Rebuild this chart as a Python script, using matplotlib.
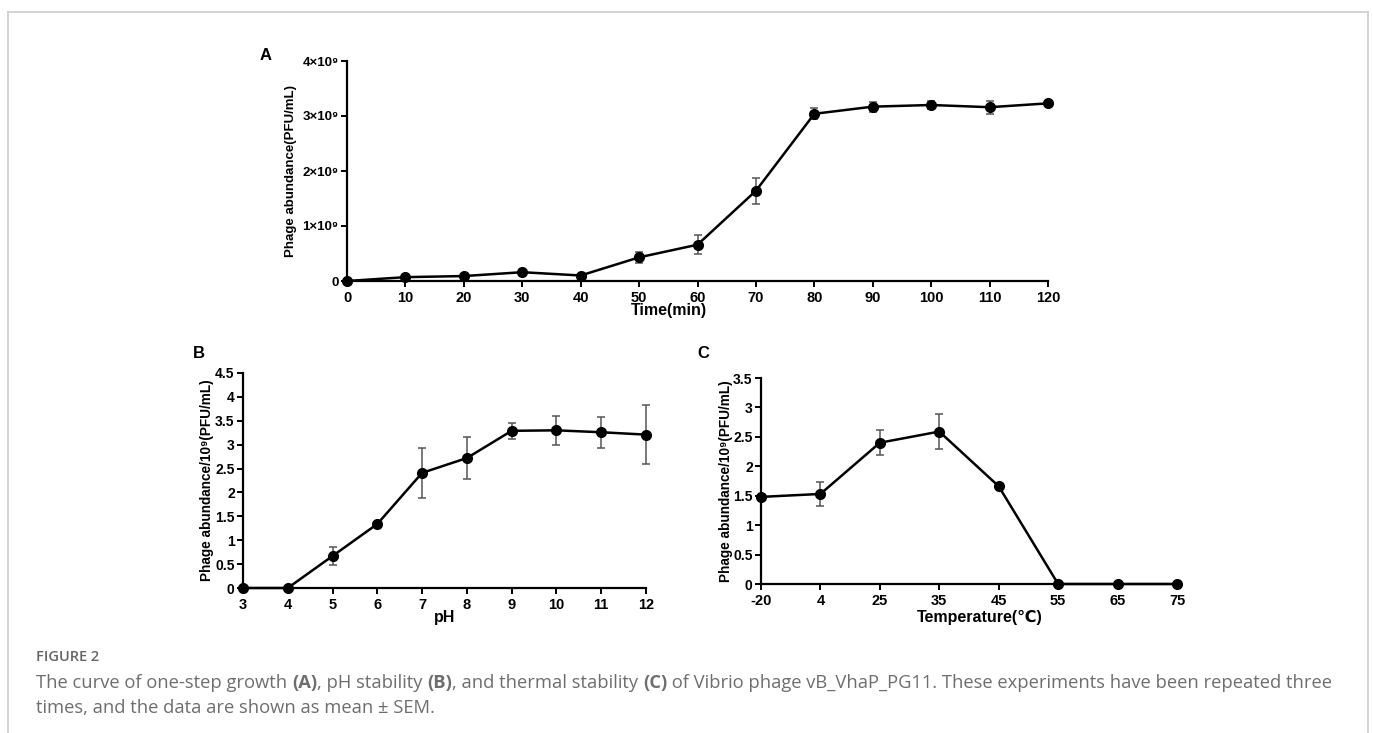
import numpy as np
import matplotlib
matplotlib.use("Agg")
import matplotlib.pyplot as plt
from matplotlib.lines import Line2D

plt.rcParams['font.family'] = ['Liberation Sans', 'DejaVu Sans']

# A: one-step growth
time_min = [0, 10, 20, 30, 40, 50, 60, 70, 80, 90, 100, 110, 120]
growth = [0.0, 0.07e9, 0.09e9, 0.16e9, 0.10e9, 0.43e9, 0.66e9, 1.64e9, 3.04e9, 3.17e9, 3.20e9, 3.16e9, 3.23e9]
growth_err = [0.0, 0.01e9, 0.01e9, 0.02e9, 0.01e9, 0.10e9, 0.17e9, 0.24e9, 0.10e9, 0.09e9, 0.07e9, 0.12e9, 0.02e9]
growth_yticks = [0, 1e9, 2e9, 3e9, 4e9]
growth_ylabels = ['0', '1×10⁹', '2×10⁹', '3×10⁹', '4×10⁹']

# B: pH stability
ph = [3, 4, 5, 6, 7, 8, 9, 10, 11, 12]
ph_val = [0, 0, 0.67, 1.34, 2.41, 2.72, 3.29, 3.30, 3.26, 3.21]
ph_err = [0, 0, 0.19, 0.05, 0.52, 0.44, 0.17, 0.31, 0.32, 0.61]

# C: thermal stability
temp_labels = ['-20', '4', '25', '35', '45', '55', '65', '75']
temp_val = [1.48, 1.53, 2.40, 2.59, 1.66, 0, 0, 0]
temp_err = [0.03, 0.20, 0.21, 0.30, 0.05, 0, 0, 0]

fig = plt.figure(figsize=(13.73, 7.33), dpi=100)
W, H = 1373.0, 733.0


def px_axes(x0, y0, x1, y1):
    return fig.add_axes([x0 / W, 1 - y1 / H, (x1 - x0) / W, (y1 - y0) / H])


def style(ax, ysize=10):
    for s in ['top', 'right']:
        ax.spines[s].set_visible(False)
    for s in ['left', 'bottom']:
        ax.spines[s].set_linewidth(1.6)
    ax.tick_params(direction='out', length=4, width=1.4, pad=3)
    ax.tick_params(axis='x', labelsize=10.5)
    ax.tick_params(axis='y', labelsize=ysize, pad=2)
    for lab in ax.get_xticklabels() + ax.get_yticklabels():
        lab.set_fontweight('bold')


def draw(ax, x, y, e):
    ax.errorbar(x, y, yerr=e, fmt='none', ecolor='#555555', elinewidth=1.1,
                capsize=3, capthick=1.1, zorder=2, clip_on=False)
    ax.plot(x, y, '-o', color='black', lw=1.8, ms=7, zorder=3, clip_on=False)


def labels(ax, xl, xc, yc_x, yl, yfs):
    ax.set_xlabel(xl, fontsize=11.5, fontweight='bold')
    ax.xaxis.label.set_va('center')
    ax.xaxis.set_label_coords(*xc)
    ax.set_ylabel(yl, fontsize=yfs, fontweight='bold')
    ax.yaxis.set_label_coords(yc_x, 0.5)


# panel A
axA = px_axes(347, 61, 1048, 281)
draw(axA, time_min, growth, growth_err)
axA.set_xlim(0, 120)
axA.set_ylim(0, 4e9)
axA.set_xticks(time_min)
axA.set_yticks(growth_yticks)
axA.set_yticklabels(growth_ylabels)
style(axA, ysize=9.5)
labels(axA, 'Time(min)', (0.459, -0.132), -0.071, 'Phage abundance(PFU/mL)', 9.5)

# panel B
axB = px_axes(243, 373, 646, 588)
draw(axB, ph, ph_val, ph_err)
axB.set_xlim(3, 12)
axB.set_ylim(0, 4.5)
axB.set_xticks(ph)
axB.set_yticks(np.arange(0, 4.51, 0.5))
axB.set_yticklabels(['%g' % v for v in np.arange(0, 4.51, 0.5)])
style(axB)
labels(axB, 'pH', (0.5, -0.135), -0.072, 'Phage abundance/10⁹(PFU/mL)', 9.8)

# panel C
axC = px_axes(761, 378, 1177, 584)
pos = np.arange(len(temp_labels))
draw(axC, pos, temp_val, temp_err)
axC.set_xlim(0, len(temp_labels) - 1)
axC.set_ylim(0, 3.5)
axC.set_xticks(pos)
axC.set_xticklabels(temp_labels)
axC.set_yticks(np.arange(0, 3.51, 0.5))
axC.set_yticklabels(['%g' % v for v in np.arange(0, 3.51, 0.5)])
style(axC)
labels(axC, 'Temperature(℃)', (0.527, -0.16), -0.068, 'Phage abundance/10⁹(PFU/mL)', 9.8)

# panel letters
for lab, x, y in [('A', 266, 55), ('B', 199, 353), ('C', 703, 353)]:
    fig.text(x / W, 1 - y / H, lab, fontsize=12, fontweight='bold', ha='center', va='center')

# frame
fig.add_artist(Line2D([8 / W, 1368 / W], [1 - 12 / H, 1 - 12 / H], color='#cccccc', lw=1.2))
fig.add_artist(Line2D([8 / W, 8 / W], [0, 1 - 12 / H], color='#cccccc', lw=1.2))
fig.add_artist(Line2D([1368 / W, 1368 / W], [0, 1 - 12 / H], color='#cccccc', lw=1.2))

# caption
cap_font = ['Open Sans', 'DejaVu Sans']
fig.text(36 / W, 1 - 657 / H, 'FIGURE 2', fontsize=10.5, color='#666666',
         fontweight='semibold', family=cap_font, va='center')

renderer = fig.canvas.get_renderer()


def rich_line(parts, x, y):
    for txt, bold in parts:
        t = fig.text(x / W, 1 - y / H, txt, fontsize=13.2, color='#6e6e6e',
                     fontweight='bold' if bold else 'normal', family=cap_font, va='center')
        bb = t.get_window_extent(renderer)
        x += bb.width


rich_line([('The curve of one-step growth ', False), ('(A)', True), (', pH stability ', False),
           ('(B)', True), (', and thermal stability ', False), ('(C)', True),
           (' of Vibrio phage vB_VhaP_PG11. These experiments have been repeated three', False)],
          36, 683)
rich_line([('times, and the data are shown as mean ± SEM.', False)], 36, 708)

fig.savefig('out.png', dpi=100)
